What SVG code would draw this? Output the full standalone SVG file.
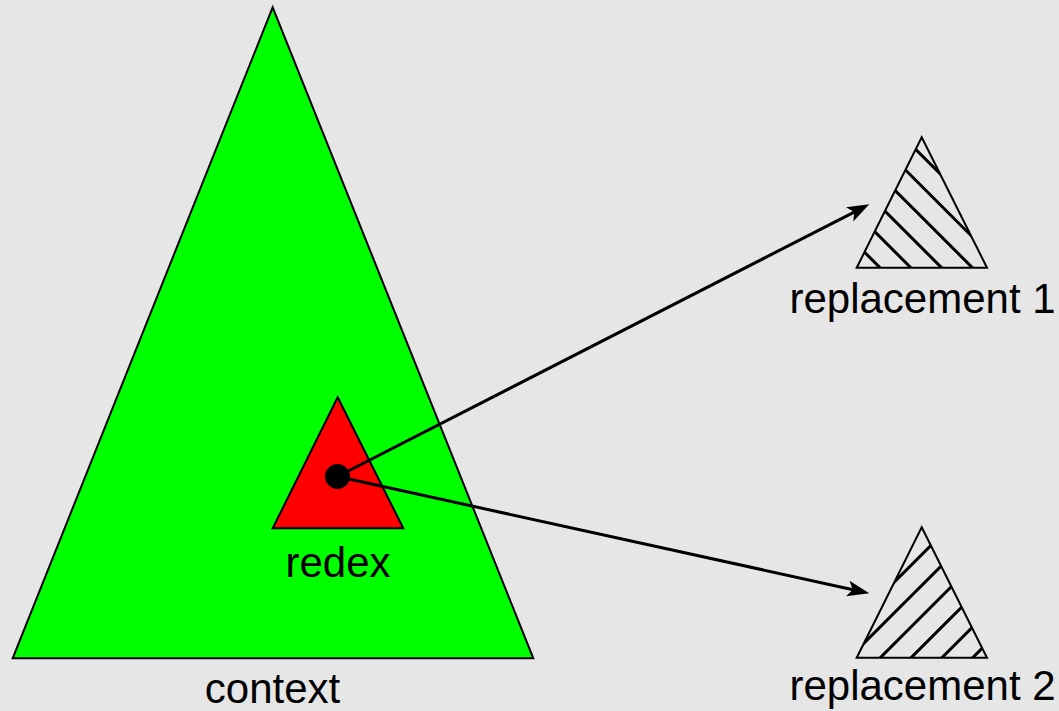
<svg xmlns="http://www.w3.org/2000/svg" width="1059" height="711" viewBox="0 0 1059 711">
  <defs>
    <style>
      .tri { stroke: #000; stroke-width: 2; stroke-linejoin: miter; }
      .hatch { stroke: #000; stroke-width: 3; fill: none; }
      .edge { stroke: #000; stroke-width: 3; fill: none; }
      .label { font-family: "Liberation Sans", Arial, sans-serif; font-size: 42px; fill: #000; text-anchor: middle; }
    </style>
    <marker id="head" markerUnits="userSpaceOnUse" markerWidth="40" markerHeight="30" viewBox="-20 -15 40 30" refX="0" refY="0" orient="auto">
      <path d="M12,0 L-10,-8 L-5,0 L-10,8 Z" fill="#000"/>
    </marker>
    <clipPath id="clip-r1">
      <polygon points="921.7,137.3 987,267.7 856.7,267.7"/>
    </clipPath>
    <clipPath id="clip-r2">
      <polygon points="921.7,527.3 987,657.7 856.7,657.7"/>
    </clipPath>
  </defs>

  <rect width="1059" height="711" fill="#e6e6e6"/>

  <g id="context">
    <polygon class="tri" points="272.7,7.3 533.3,658.3 12.7,658.3" fill="#00ff00"/>
    <text class="label" x="272.5" y="703">context</text>
  </g>

  <g id="redex">
    <polygon class="tri" points="337.7,397.3 403.3,528.3 272.7,528.3" fill="#ff0000"/>
    <text class="label" x="338" y="577">redex</text>
  </g>

  <g id="replacement1">
    <g clip-path="url(#clip-r1)">
      <!-- north west lines: y - x = const -->
      <g class="hatch">
        <line x1="800" y1="187.7" x2="1000" y2="387.7"/>
        <line x1="800" y1="156.9" x2="1000" y2="356.9"/>
        <line x1="800" y1="126.1" x2="1000" y2="326.1"/>
        <line x1="800" y1="95.3" x2="1000" y2="295.3"/>
        <line x1="800" y1="64.5" x2="1000" y2="264.5"/>
        <line x1="800" y1="33.7" x2="1000" y2="233.7"/>
      </g>
    </g>
    <polygon class="tri" points="921.7,137.3 987,267.7 856.7,267.7" fill="none"/>
    <text class="label" x="922.5" y="313">replacement 1</text>
  </g>

  <g id="replacement2">
    <g clip-path="url(#clip-r2)">
      <!-- north east lines: x + y = const -->
      <g class="hatch">
        <line x1="800" y1="830.4" x2="1000" y2="630.4"/>
        <line x1="800" y1="799.6" x2="1000" y2="599.6"/>
        <line x1="800" y1="768.8" x2="1000" y2="568.8"/>
        <line x1="800" y1="738.0" x2="1000" y2="538.0"/>
        <line x1="800" y1="707.2" x2="1000" y2="507.2"/>
        <line x1="800" y1="676.4" x2="1000" y2="476.4"/>
      </g>
    </g>
    <polygon class="tri" points="921.7,527.3 987,657.7 856.7,657.7" fill="none"/>
    <text class="label" x="922.5" y="700">replacement 2</text>
  </g>

  <g id="connectors">
    <line class="edge" x1="337.5" y1="476.5" x2="858.6" y2="209.8" marker-end="url(#head)"/>
    <line class="edge" x1="337.5" y1="476.5" x2="857.6" y2="590.7" marker-end="url(#head)"/>
    <circle cx="337.5" cy="476.5" r="12.5" fill="#000"/>
  </g>
</svg>
